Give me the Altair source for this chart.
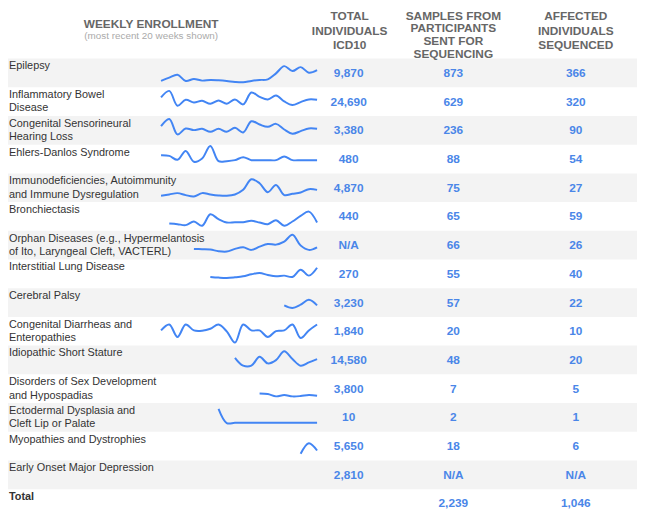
import altair as alt
import pandas as pd

FONT = "Liberation Sans, Arial, sans-serif"

conditions = [
    "Epilepsy",
    "Inflammatory Bowel\nDisease",
    "Congenital Sensorineural\nHearing Loss",
    "Ehlers-Danlos Syndrome",
    "Immunodeficiencies, Autoimmunity\nand Immune Dysregulation",
    "Bronchiectasis",
    "Orphan Diseases (e.g., Hypermelantosis\nof Ito, Laryngeal Cleft, VACTERL)",
    "Interstitial Lung Disease",
    "Cerebral Palsy",
    "Congenital Diarrheas and\nEnteropathies",
    "Idiopathic Short Stature",
    "Disorders of Sex Development\nand Hypospadias",
    "Ectodermal Dysplasia and\nCleft Lip or Palate",
    "Myopathies and Dystrophies",
    "Early Onset Major Depression",
]
total_icd10 = [9870, 24690, 3380, 480, 4870, 440, None, 270, 3230, 1840, 14580, 3800, 10, 5650, 2810]
samples_sent = [873, 629, 236, 88, 75, 65, 66, 55, 57, 20, 48, 7, 2, 18, None]
affected_sequenced = [366, 320, 90, 54, 27, 59, 26, 40, 22, 10, 20, 5, 1, 6, None]
total_label = "Total"
total_samples = 2239
total_affected = 1046

# weekly enrollment (most recent 20 weeks; shorter series start later)
epilepsy = [10, 20, 29, 10, 16, 11, 13, 12, 10, 7, 6, 10, 13, 15, 33, 55, 40, 52, 35, 43]
ibd = [47, 67, 22, 40, 32, 37, 28, 38, 28, 41, 26, 62, 49, 41, 53, 35, 24, 33, 41, 40]
cshl = [47, 69, 22, 40, 35, 39, 30, 39, 30, 42, 28, 62, 52, 45, 54, 37, 24, 32, 40, 39]
ehlers = [46, 44, 32, 59, 26, 36, 74, 28, 28, 31, 40, 31, 31, 31, 31, 42, 31, 31, 31, 31]
immuno = [10, 14, 18, 12, 8, 18, 14, 11, 10, 14, 28, 60, 48, 21, 43, 12, 16, 20, 30, 28]
bronch = [13, 11, 8, 19, 6, 41, 26, 16, 17, 17, 21, 16, 11, 23, 6, 19, 36, 49, 16]
orphan = [23, 22, 21, 16, 15, 23, 28, 20, 30, 38, 36, 45, 66, 33, 20, 28]
ild = [25, 23, 22, 24, 27, 33, 37, 31, 27, 29, 25, 47, 29, 53]
cerebral = [26, 18, 28, 43, 26]
cde = [37, 55, 17, 55, 37, 36, 42, 55, 34, 0, 55, 37, 37, 17, 35, 37, 55, 14, 37, 55]
idiopathic = [41, 17, 17, 44, 24, 34, 61, 37, 17, 27, 37]
dsd = [20, 18, 11, 15, 11, 12, 15, 13]
ecto = [60, 17, 18, 18, 18, 18, 18, 18, 18, 18, 18, 18, 18]
myop = [11, 43, 21]
early = []
weekly = [epilepsy, ibd, cshl, ehlers, immuno, bronch, orphan, ild, cerebral,
          cde, idiopathic, dsd, ecto, myop, early]
SPARK_MAX = 72  # top of each sparkline's value axis

header_spark = "WEEKLY ENROLLMENT"
header_spark_sub = "(most recent 20 weeks shown)"
header_cols = ["TOTAL\nINDIVIDUALS\nICD10",
               "SAMPLES FROM\nPARTICIPANTS\nSENT FOR\nSEQUENCING",
               "AFFECTED\nINDIVIDUALS\nSEQUENCED"]


def fmt(v):
    return "N/A" if v is None else f"{v:,}"


rows = pd.DataFrame({
    "k": list(range(len(conditions))),
    "label": conditions,
    "icd": [fmt(v) for v in total_icd10],
    "samples": [fmt(v) for v in samples_sent],
    "affected": [fmt(v) for v in affected_sequenced],
})
totals = pd.DataFrame({"k": [len(conditions)], "label": [total_label],
                       "samples": [fmt(total_samples)],
                       "affected": [fmt(total_affected)]})
spark = pd.DataFrame([
    {"k": k, "week": 21 - len(s) + i, "n": v}
    for k, s in enumerate(weekly) for i, v in enumerate(s)
])

ROW_H = 29.07
W, H = 637, 505
yscale = alt.Scale(domain=[0, 16], range=[48, 48 + 16 * ROW_H])
BLUE_TXT = "#4a86e8"
BLUE_LINE = "#4285f4"

bg = alt.Chart(rows).transform_filter("datum.k % 2 == 0").transform_calculate(
    k2="datum.k + 1"
).mark_rect(color="#f3f3f3").encode(
    x=alt.value(0), x2=alt.value(W),
    y=alt.Y("k:Q", scale=yscale, axis=None), y2="k2:Q",
)

labels = alt.Chart(rows).transform_calculate(
    yl=f"datum.k + 11 / {ROW_H}"
).mark_text(align="left", baseline="alphabetic", fontSize=11, lineBreak="\n",
            lineHeight=13.5, color="#333333", font=FONT).encode(
    x=alt.value(1), y=alt.Y("yl:Q", scale=yscale, axis=None), text="label:N"
)


def value_col(df, col, xpos):
    return alt.Chart(df).transform_calculate(yc="datum.k + 0.5").mark_text(
        align="center", baseline="middle", fontSize=12, fontWeight="bold",
        color=BLUE_TXT, font=FONT
    ).encode(x=alt.value(xpos), y=alt.Y("yc:Q", scale=yscale, axis=None), text=f"{col}:N")


vals = [value_col(rows, "icd", 345), value_col(rows, "samples", 451),
        value_col(rows, "affected", 575),
        value_col(totals, "samples", 451), value_col(totals, "affected", 575)]

total_lbl = alt.Chart(totals).transform_calculate(
    yl=f"datum.k + 11 / {ROW_H}"
).mark_text(align="left", baseline="alphabetic", fontSize=11, fontWeight="bold",
            color="#333333", font=FONT).encode(
    x=alt.value(1), y=alt.Y("yl:Q", scale=yscale, axis=None), text="label:N"
)

# each sparkline: value axis 0..SPARK_MAX drawn inside its own row band
lines = alt.Chart(spark).transform_calculate(
    ys=f"datum.k + (26 - 24 * datum.n / {SPARK_MAX}) / {ROW_H}"
).mark_line(interpolate="catmull-rom", strokeWidth=2, color=BLUE_LINE).encode(
    x=alt.X("week:Q", scale=alt.Scale(domain=[1, 20], range=[155, 313]), axis=None),
    y=alt.Y("ys:Q", scale=yscale, axis=None),
    detail="k:N",
)


def header(text, x, y, size, color, weight, lh):
    return alt.Chart(pd.DataFrame({"t": [text]})).mark_text(
        align="center", baseline="alphabetic", fontSize=size, fontWeight=weight,
        color=color, lineBreak="\n", lineHeight=lh, font=FONT
    ).encode(x=alt.value(x), y=alt.value(y), text="t:N")


headers = [
    header(header_spark, 145, 16.7, 12, "#666666", "bold", 14),
    header(header_spark_sub, 145, 28.5, 10, "#aaaaaa", "normal", 12),
    header(header_cols[0], 346, 9.3, 12, "#666666", "bold", 14.6),
    header(header_cols[1], 451, 8.8, 12, "#666666", "bold", 12.8),
    header(header_cols[2], 575, 9.3, 12, "#666666", "bold", 14.6),
]

chart = alt.layer(bg, labels, total_lbl, lines, *vals, *headers).properties(
    width=W, height=H, padding=0,
    autosize=alt.AutoSizeParams(type="none"),
).configure_view(stroke=None)

chart.save("out.html", embed_options={"renderer": "svg", "actions": False})
